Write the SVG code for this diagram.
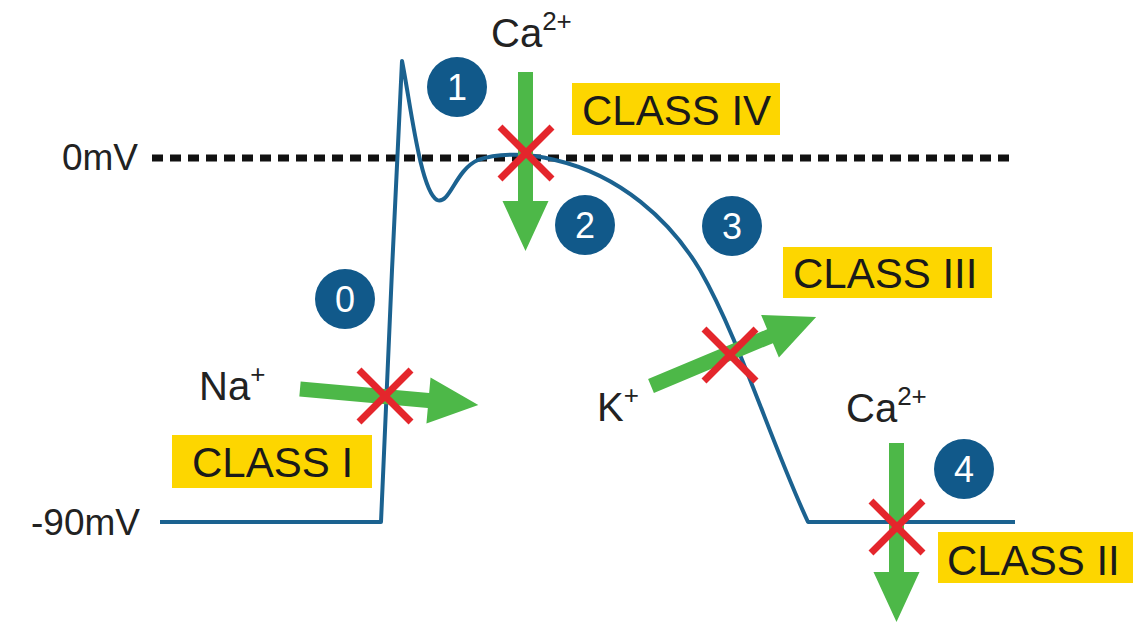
<svg xmlns="http://www.w3.org/2000/svg" xmlns:xlink="http://www.w3.org/1999/xlink" width="1135" height="626" viewBox="0 0 1135 626">
  <style>
    .lbl { font-family: "Liberation Sans", Arial, Helvetica, sans-serif; font-size: 40px; fill: #222222; }
    .axis { font-family: "Liberation Sans", Arial, Helvetica, sans-serif; font-size: 37px; fill: #222222; }
    .cls { font-family: "Liberation Sans", Arial, Helvetica, sans-serif; font-size: 42px; fill: #1a1a1a; }
    .box { fill: #fdd600; }
    .phase { fill: #11598a; }
    .num { font-family: "Liberation Sans", Arial, Helvetica, sans-serif; font-size: 36px; fill: #ffffff; text-anchor: middle; }
    .ap { fill: none; stroke: #1b6290; stroke-width: 4; stroke-linejoin: round; }
    .zero { fill: none; stroke: #111111; stroke-width: 7; stroke-dasharray: 11 7; }
    .arr { fill: #4db848; }
    .x { fill: none; stroke: #e4262c; stroke-width: 7; }
  </style>
  <defs>
    <path id="arrow" d="M0,-7.5 L129,-7.5 L129,-23 L179,0 L129,23 L129,7.5 L0,7.5 Z"/>
    <path id="cross" d="M-26,-26 L26,26 M26,-26 L-26,26"/>
  </defs>
  <rect width="1135" height="626" fill="#ffffff"/>

  <g id="axis-labels">
    <text class="axis" x="138" y="170" text-anchor="end">0mV</text>
    <text class="axis" x="140" y="535" text-anchor="end">-90mV</text>
  </g>

  <line id="zero-line" class="zero" x1="152" y1="158" x2="1016" y2="158"/>

  <path id="action-potential" class="ap" d="M160,522 L381,522 L392,270 L402,61 C410,100 420,190 437,200 C450,205 455,170 478,160 C495,154 525,152 555,160 C620,175 670,220 700,270 C740,340 770,440 808,522 L1015,522"/>

  <g id="connectors">
    <use href="#arrow" class="arr" transform="translate(525.5,72) rotate(90)"/>
    <use href="#arrow" class="arr" transform="translate(300,389) rotate(5.1)"/>
    <use href="#arrow" class="arr" transform="translate(651,386) rotate(-22.7)"/>
    <use href="#arrow" class="arr" transform="translate(896.5,443) rotate(90)"/>
  </g>

  <g id="blocks">
    <use href="#cross" class="x" transform="translate(526,153)"/>
    <use href="#cross" class="x" transform="translate(385,396)"/>
    <use href="#cross" class="x" transform="translate(730,355)"/>
    <use href="#cross" class="x" transform="translate(897,527)"/>
  </g>

  <g id="phase-0"><circle class="phase" cx="345" cy="299" r="30"/><text class="num" x="345" y="312">0</text></g>
  <g id="phase-1"><circle class="phase" cx="457" cy="87" r="30"/><text class="num" x="457" y="100">1</text></g>
  <g id="phase-2"><circle class="phase" cx="585" cy="225" r="30"/><text class="num" x="585" y="238">2</text></g>
  <g id="phase-3"><circle class="phase" cx="732" cy="226" r="30"/><text class="num" x="732" y="239">3</text></g>
  <g id="phase-4"><circle class="phase" cx="964" cy="469" r="30"/><text class="num" x="964" y="482">4</text></g>

  <g id="ion-ca-top"><text class="lbl" x="491" y="47">Ca<tspan font-size="26" dy="-17">2+</tspan></text></g>
  <g id="ion-na"><text class="lbl" x="199" y="400">Na<tspan font-size="26" dy="-17">+</tspan></text></g>
  <g id="ion-k"><text class="lbl" x="597" y="421">K<tspan font-size="26" dy="-17">+</tspan></text></g>
  <g id="ion-ca-bottom"><text class="lbl" x="846" y="422">Ca<tspan font-size="26" dy="-17">2+</tspan></text></g>

  <g id="class-iv"><rect class="box" x="572" y="83" width="208" height="52"/><text class="cls" x="582" y="125">CLASS IV</text></g>
  <g id="class-iii"><rect class="box" x="783" y="247" width="209" height="51"/><text class="cls" x="793" y="288">CLASS III</text></g>
  <g id="class-ii"><rect class="box" x="938" y="532" width="195" height="51"/><text class="cls" x="947" y="575">CLASS II</text></g>
  <g id="class-i"><rect class="box" x="172" y="435" width="200" height="53"/><text class="cls" x="192" y="477">CLASS I</text></g>
</svg>
